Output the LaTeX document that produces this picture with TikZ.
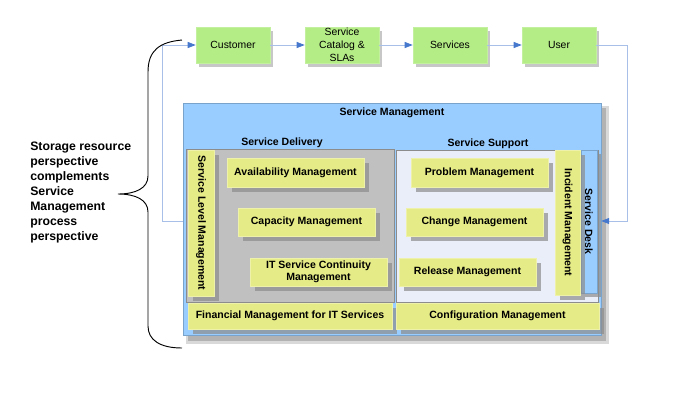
\documentclass[tikz,border=0pt]{standalone}
\usepackage{fontspec}
\setmainfont{Liberation Sans}
\usetikzlibrary{shadows,arrows.meta}
\definecolor{boxgreen}{RGB}{180,236,134}
\definecolor{boxyellow}{RGB}{229,235,134}
\definecolor{smblue}{RGB}{153,204,255}
\definecolor{panelgray}{RGB}{192,192,192}
\definecolor{panellight}{RGB}{233,238,248}
\definecolor{flowline}{RGB}{168,192,232}
\definecolor{tipblue}{RGB}{70,120,205}
\tikzset{
  flowbox/.style={fill=boxgreen, draw=boxgreen!80!white, line width=0.4pt, inner sep=0pt,
    font=\fontsize{7.8}{9.8}\selectfont, align=center,
    drop shadow={shadow xshift=2pt, shadow yshift=-3pt, fill=black, opacity=0.22}},
  procbox/.style={fill=boxyellow, draw=boxyellow!70!white, line width=0.4pt, inner sep=0pt,
    font=\bfseries\fontsize{7.9}{9.2}\selectfont, align=center,
    drop shadow={shadow xshift=3.5pt, shadow yshift=-3.5pt, fill=black!45, opacity=0.7}},
  vproc/.style={procbox, rotate=-90},
  bluebox/.style={fill=smblue, draw=smblue!80!black, line width=0.3pt, inner sep=0pt},
  hdr/.style={font=\bfseries\fontsize{7.9}{9}\selectfont, inner sep=0pt},
  flow/.style={draw=flowline, line width=0.6pt, -{Triangle[length=6pt,width=4.5pt,color=tipblue]}},
}
% \bx{style}{x1}{y1}{x2}{y2}{name}{text}  (pixel coordinates)
\newcommand\bx[7]{\node[#1, minimum width={(#4-#2)*0.75pt}, minimum height={(#5-#3)*0.75pt}] (#6) at ({(#2+#4)/2},{(#3+#5)/2}) {#7};}
% vertical box: width is along y
\newcommand\vbx[7]{\node[#1, minimum width={(#5-#3)*0.75pt}, minimum height={(#4-#2)*0.75pt}] (#6) at ({(#2+#4)/2},{(#3+#5)/2}) {#7};}
\begin{document}
\begin{tikzpicture}[x=0.75pt,y=-0.75pt]
\useasboundingbox (0,0) rectangle (687,401);

% top flow
\bx{flowbox}{196}{27}{270}{63}{cust}{Customer}
\bx{flowbox}{305}{27}{379}{63}{cat}{Service\\Catalog \&\\SLAs}
\bx{flowbox}{413}{27}{487}{63}{serv}{Services}
\bx{flowbox}{522}{27}{596}{63}{user}{User}
\draw[flow] (cust) -- (cat);
\draw[flow] (cat) -- (serv);
\draw[flow] (serv) -- (user);

% service management outer box
\fill[black!15] (186,106) rectangle (609,344);
\fill[black!30] (188,108) rectangle (606,341);
\bx{bluebox}{183}{103}{601}{335}{sm}{}
\node[hdr] (smt) at (392,113) {Service Management};
\node[hdr] (sdt) at (282,143) {Service Delivery};
\node[hdr] (sst) at (488,144) {Service Support};

% panels
\bx{fill=panelgray, draw=black!45, line width=0.5pt, inner sep=0pt}{186}{149}{394}{302}{deliv}{}
\bx{fill=panellight, draw=black!45, line width=0.5pt, inner sep=0pt}{396}{150}{598}{302}{supp}{}

% service delivery
\vbx{vproc}{188}{150}{214}{296}{slm}{Service Level Management}
\bx{procbox}{227}{158}{364}{187}{avail}{Availability Management}
\bx{procbox}{238}{208}{375}{236}{cap}{Capacity Management}
\bx{procbox}{250}{258}{387}{286}{itscm}{IT Service Continuity\\Management}
\bx{procbox}{188}{303}{392}{329}{fin}{Financial Management for IT Services}

% service support
\bx{procbox}{411}{158}{548}{187}{prob}{Problem Management}
\bx{procbox}{406}{208}{543}{236}{chg}{Change Management}
\bx{procbox}{399}{258}{536}{286}{rel}{Release Management}
\bx{procbox}{396}{303}{599}{329}{conf}{Configuration Management}
\vbx{bluebox, rotate=-90, font=\bfseries\fontsize{7.9}{9}\selectfont,
  drop shadow={shadow xshift=3pt, shadow yshift=-3pt, fill=black!45, opacity=0.7}}{581}{150}{597}{293}{desk}{Service Desk}
\vbx{vproc}{555}{150}{580}{295}{inc}{Incident Management}

% loop connectors
\coordinate (lb) at (162,221);
\coordinate (rb) at (627,221);
\draw[flow] (sm.west |- lb) -- (lb) |- (cust.west);
\draw[flow] (user.east) -| (rb) -- (sm.east |- rb);

% brace
\draw[line width=0.7pt] (182,40) .. controls (160,42) and (148,50) .. (148,72) -- (148,176)
  .. controls (148,188) and (136,194) .. (118,194)
  .. controls (136,194) and (148,200) .. (148,212) -- (148,326)
  .. controls (148,340) and (160,348) .. (182,348);

% side text
\node[anchor=north west, align=left, inner sep=0pt,
  font=\bfseries\fontsize{9.2}{11.25}\selectfont] (side) at (30,142)
  {Storage resource\\perspective\\complements\\Service\\Management\\process\\perspective};
\end{tikzpicture}
\end{document}
